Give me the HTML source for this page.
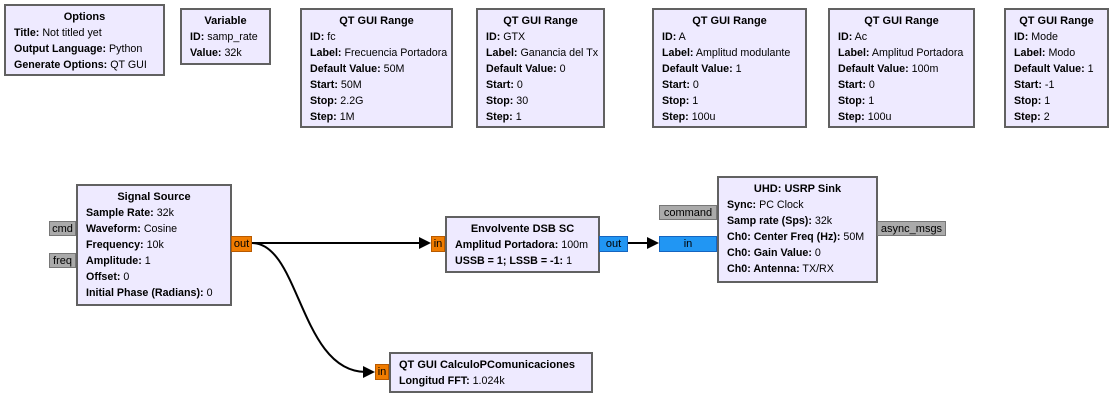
<!DOCTYPE html>
<html><head><meta charset="utf-8"><style>
body{margin:0;width:1120px;height:420px;background:#fff;position:relative;overflow:hidden;font-family:"Liberation Sans","DejaVu Sans",sans-serif;font-size:10.7px;color:#000}
.b{position:absolute;box-sizing:border-box;border:2px solid #616161;background:#eeeaff;padding:3px 0 0 8px;line-height:16px;white-space:nowrap}
.b .t{text-align:center;font-weight:bold;margin-left:-8px;font-size:11px}
b{font-weight:bold}
.p{position:absolute;box-sizing:border-box;border:1px solid #888;font-size:11px;line-height:15px;text-align:center;white-space:nowrap}
.o{background:#f07c00;border-color:#b85a00}
.g{background:#aaa;border-color:#777}
.bl{background:#2196f3;border-color:#1565c0}
</style></head><body>
<div class="b" style="left:4px;top:4px;width:161px;height:72px"><div class="t">Options</div><b>Title:</b> Not titled yet<br><b>Output Language:</b> Python<br><b>Generate Options:</b> QT GUI</div>
<div class="b" style="left:180px;top:8px;width:91px;height:57px"><div class="t">Variable</div><b>ID:</b> samp_rate<br><b>Value:</b> 32k</div>
<div class="b" style="left:300px;top:8px;width:153px;height:120px"><div class="t">QT GUI Range</div><b>ID:</b> fc<br><b>Label:</b> Frecuencia Portadora<br><b>Default Value:</b> 50M<br><b>Start:</b> 50M<br><b>Stop:</b> 2.2G<br><b>Step:</b> 1M</div>
<div class="b" style="left:476px;top:8px;width:129px;height:120px"><div class="t">QT GUI Range</div><b>ID:</b> GTX<br><b>Label:</b> Ganancia del Tx<br><b>Default Value:</b> 0<br><b>Start:</b> 0<br><b>Stop:</b> 30<br><b>Step:</b> 1</div>
<div class="b" style="left:652px;top:8px;width:155px;height:120px"><div class="t">QT GUI Range</div><b>ID:</b> A<br><b>Label:</b> Amplitud modulante<br><b>Default Value:</b> 1<br><b>Start:</b> 0<br><b>Stop:</b> 1<br><b>Step:</b> 100u</div>
<div class="b" style="left:828px;top:8px;width:147px;height:120px"><div class="t">QT GUI Range</div><b>ID:</b> Ac<br><b>Label:</b> Amplitud Portadora<br><b>Default Value:</b> 100m<br><b>Start:</b> 0<br><b>Stop:</b> 1<br><b>Step:</b> 100u</div>
<div class="b" style="left:1004px;top:8px;width:105px;height:120px"><div class="t">QT GUI Range</div><b>ID:</b> Mode<br><b>Label:</b> Modo<br><b>Default Value:</b> 1<br><b>Start:</b> -1<br><b>Stop:</b> 1<br><b>Step:</b> 2</div>

<svg style="position:absolute;left:0;top:0" width="1120" height="420">
<path d="M252 243 L422 243" stroke="#000" stroke-width="2" fill="none"/>
<polygon points="431,243 419,237 419,249" fill="#000"/>
<path d="M252 243 C300 243 300 372 366 372" stroke="#000" stroke-width="2" fill="none"/>
<polygon points="375,372 363,366 363,378" fill="#000"/>
<path d="M628 243 L650 243" stroke="#000" stroke-width="2" fill="none"/>
<polygon points="659,243 647,237 647,249" fill="#000"/>
</svg>

<div class="b" style="left:76px;top:184px;width:156px;height:122px"><div class="t">Signal Source</div><b>Sample Rate:</b> 32k<br><b>Waveform:</b> Cosine<br><b>Frequency:</b> 10k<br><b>Amplitude:</b> 1<br><b>Offset:</b> 0<br><b>Initial Phase (Radians):</b> 0</div>
<div class="p g" style="left:49px;top:221px;width:27px;height:15px;line-height:14px">cmd</div>
<div class="p g" style="left:49px;top:253px;width:27px;height:15px;line-height:14px">freq</div>
<div class="p o" style="left:231px;top:236px;width:21px;height:16px">out</div>

<div class="b" style="left:445px;top:216px;width:155px;height:57px"><div class="t">Envolvente DSB SC</div><b>Amplitud Portadora:</b> 100m<br><b>USSB = 1; LSSB = -1:</b> 1</div>
<div class="p o" style="left:431px;top:236px;width:14px;height:16px">in</div>
<div class="p bl" style="left:599px;top:236px;width:29px;height:16px">out</div>

<div class="b" style="left:717px;top:176px;width:161px;height:107px"><div class="t">UHD: USRP Sink</div><b>Sync:</b> PC Clock<br><b>Samp rate (Sps):</b> 32k<br><b>Ch0: Center Freq (Hz):</b> 50M<br><b>Ch0: Gain Value:</b> 0<br><b>Ch0: Antenna:</b> TX/RX</div>
<div class="p g" style="left:659px;top:205px;width:58px;height:15px;line-height:14px">command</div>
<div class="p bl" style="left:659px;top:236px;width:58px;height:16px">in</div>
<div class="p g" style="left:877px;top:221px;width:69px;height:15px;line-height:14px">async_msgs</div>

<div class="b" style="left:389px;top:352px;width:204px;height:41px"><div class="t" style="text-align:left;margin-left:0">QT GUI CalculoPComunicaciones</div><b>Longitud FFT:</b> 1.024k</div>
<div class="p o" style="left:375px;top:364px;width:14px;height:16px">in</div>
</body></html>
